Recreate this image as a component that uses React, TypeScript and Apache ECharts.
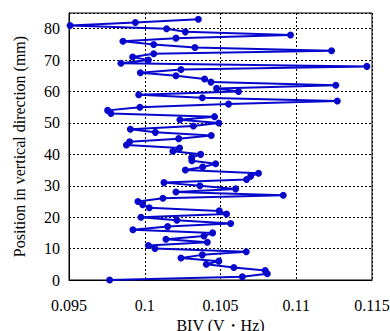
import React, { useEffect, useRef } from "react";
import * as echarts from "echarts";

// Position in vertical direction (mm)
const positions: number[] = [
  0, 1, 2, 3, 4, 5, 6, 7, 8, 9,
  10, 11, 12, 13, 14, 15, 16, 17, 18, 19,
  20, 21, 22, 23, 24, 25, 26, 27, 28, 29,
  30, 31, 32, 33, 34, 35, 36, 37, 38, 39,
  40, 41, 42, 43, 44, 45, 46, 47, 48, 49,
  50, 51, 52, 53, 54, 55, 56, 57, 58, 59,
  60, 61, 62, 63, 64, 65, 66, 67, 68, 69,
  70, 71, 72, 73, 74, 75, 76, 77, 78, 79,
  80, 81, 82, 83,
];

// BIV (V・Hz) at each position
const bivValues: number[] = [
  0.09768, 0.10644, 0.10809, 0.10795, 0.10588, 0.10406, 0.10489, 0.10239, 0.1038, 0.1067,
  0.10067, 0.10024, 0.10413, 0.1014, 0.10391, 0.10448, 0.09922, 0.10151, 0.10567, 0.10212,
  0.09975, 0.1054, 0.10492, 0.1003, 0.09986, 0.09955, 0.1012, 0.10914, 0.10206, 0.106,
  0.10364, 0.10127, 0.10672, 0.10699, 0.10751, 0.10268, 0.10382, 0.10468, 0.10311, 0.10309,
  0.10369, 0.10186, 0.1023, 0.09879, 0.099, 0.10224, 0.10439, 0.1007, 0.09905, 0.10321,
  0.10489, 0.10232, 0.10461, 0.09777, 0.09755, 0.09968, 0.10553, 0.11271, 0.1038, 0.0996,
  0.10619, 0.10474, 0.11261, 0.10437, 0.10395, 0.10206, 0.09971, 0.10239, 0.11466, 0.09843,
  0.10024, 0.0992, 0.10059, 0.11233, 0.10331, 0.10059, 0.09856, 0.10206, 0.10962, 0.10268,
  0.10144, 0.09507, 0.09938, 0.10354,
];

const xTitle = "BIV (V・Hz)";
const yTitle = "Position in vertical direction (mm)";

const FONT = "'Liberation Serif', 'Times New Roman', serif";

export default function App() {
  const ref = useRef<HTMLDivElement>(null);
  useEffect(() => {
    if (!ref.current) return;
    const chart = echarts.init(ref.current, undefined, { renderer: "svg" });
    const data = positions.map((p, i) => [bivValues[i], p]);
    chart.setOption({
      animation: false,
      textStyle: { fontFamily: FONT, color: "#000" },
      grid: {
        left: 69,
        right: 18,
        top: 13,
        bottom: 51,
        containLabel: false,
        outerBoundsMode: "none",
        show: true,
        borderColor: "#000",
        borderWidth: 1,
        backgroundColor: "transparent",
      },
      xAxis: {
        type: "value",
        min: 0.095,
        max: 0.115,
        interval: 0.005,
        name: xTitle,
        nameLocation: "middle",
        nameGap: 33,
        nameTextStyle: { fontFamily: FONT, fontSize: 16, color: "#000", lineHeight: 16 },
        axisLine: { show: true, lineStyle: { color: "#000", width: 1 } },
        axisTick: { show: false },
        axisLabel: {
          fontFamily: FONT,
          fontSize: 16,
          color: "#000",
          margin: 17,
          formatter: (v: number) => String(Number(v.toFixed(3))),
        },
        splitLine: { show: true, lineStyle: { color: "#000", type: [2, 2], width: 1 } },
      },
      yAxis: {
        type: "value",
        min: 0,
        max: 85,
        interval: 10,
        name: yTitle,
        nameLocation: "middle",
        nameGap: 42,
        nameTextStyle: { fontFamily: FONT, fontSize: 16, color: "#000" },
        axisLine: { show: true, lineStyle: { color: "#000", width: 1 } },
        axisTick: { show: false },
        axisLabel: {
          fontFamily: FONT,
          fontSize: 16,
          color: "#000",
          margin: 9,
          formatter: (v: number) => (v % 10 === 0 ? String(v) : ""),
        },
        splitLine: { show: true, lineStyle: { color: "#000", type: [2, 2], width: 1 } },
      },
      series: [
        {
          type: "line",
          data,
          symbol: "circle",
          symbolSize: 7,
          showAllSymbol: true,
          lineStyle: { color: "#0808cc", width: 2 },
          itemStyle: { color: "#0808cc" },
        },
      ],
    });
    return () => chart.dispose();
  }, []);
  return <div ref={ref} style={{ width: 390, height: 331, position: "absolute", left: 0, top: 0 }} />;
}
